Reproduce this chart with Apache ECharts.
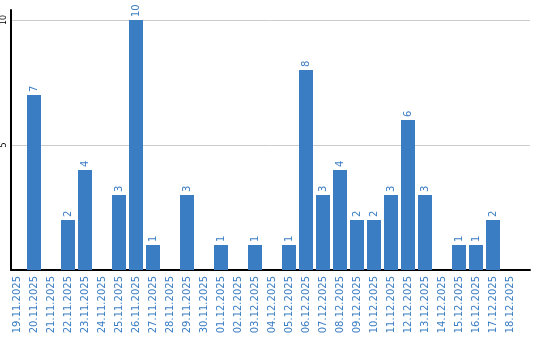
<!DOCTYPE html>
<html><head><meta charset="utf-8">
<script src="https://cdn.jsdelivr.net/npm/echarts@6/dist/echarts.min.js"></script>
<style>html,body{margin:0;padding:0;background:#fff}#c{width:540px;height:340px}</style>
</head><body><div id="c"></div>
<script>
const categories = ['19.11.2025','20.11.2025','21.11.2025','22.11.2025','23.11.2025','24.11.2025','25.11.2025','26.11.2025','27.11.2025','28.11.2025','29.11.2025','30.11.2025','01.12.2025','02.12.2025','03.12.2025','04.12.2025','05.12.2025','06.12.2025','07.12.2025','08.12.2025','09.12.2025','10.12.2025','11.12.2025','12.12.2025','13.12.2025','14.12.2025','15.12.2025','16.12.2025','17.12.2025','18.12.2025'];
const values = [0,7,0,2,4,0,3,10,1,0,3,0,1,0,1,0,1,8,3,4,2,2,3,6,3,0,1,1,2,0];
const yTicks = [0,5,10];

const blue = '#3b7dc3';
const chart = echarts.init(document.getElementById('c'), null, {renderer:'canvas'});
chart.setOption({
  animation:false,
  grid:[
    {left:8.5, right:21.5, top:10, bottom:70},
    {left:10, right:10, top:10, bottom:70}
  ],
  xAxis:[
    {type:'category', gridIndex:0, data:categories,
     axisLine:{show:false}, axisTick:{show:false},
     axisLabel:{rotate:90, interval:0, color:blue, fontSize:10, fontFamily:'DejaVu Sans', margin:6}},
    {type:'value', gridIndex:1, min:0, max:1,
     axisLine:{show:true, lineStyle:{color:'#000', width:2}}, axisTick:{show:false},
     axisLabel:{show:false}, splitLine:{show:false}}
  ],
  yAxis:[
    {type:'value', gridIndex:0, min:0, max:10.4, show:false, splitLine:{show:false}},
    {type:'value', gridIndex:1, min:0, max:10.4, interval:5,
     axisLine:{show:true, lineStyle:{color:'#000', width:2}}, axisTick:{show:false},
     axisLabel:{rotate:90, color:'#000', fontSize:8, fontFamily:'DejaVu Sans', margin:3,
       formatter:v => yTicks.includes(v) && v !== 0 ? String(v) : ''},
     splitLine:{show:true, lineStyle:{color:['transparent','#cccccc','#cccccc','transparent'], width:1}}}
  ],
  series:[{
    type:'bar', xAxisIndex:0, yAxisIndex:0, data:values, barWidth:14,
    itemStyle:{color:blue},
    label:{show:true, position:'top', rotate:90, align:'left', verticalAlign:'middle', distance:3,
      color:blue, fontSize:10, fontFamily:'DejaVu Sans',
      formatter:p => p.value ? String(p.value) : ''}
  }]
});
</script></body></html>
